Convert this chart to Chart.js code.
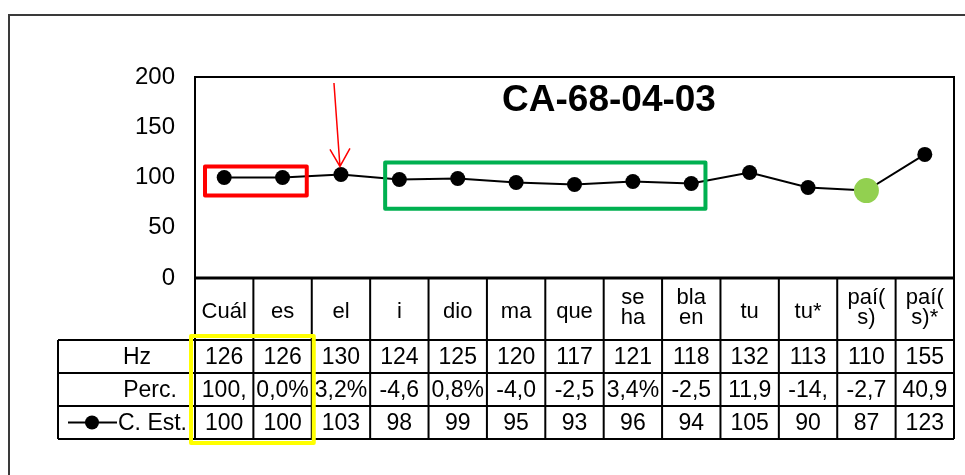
<!DOCTYPE html>
<html>
<head>
<meta charset="utf-8">
<script src="https://cdn.jsdelivr.net/npm/chart.js@4"></script>
<style>
  html, body { margin: 0; padding: 0; background: #ffffff; }
  canvas { display: block; }
</style>
</head>
<body>
<canvas id="pitchChart" width="965" height="475"></canvas>
<script>
// Chart data
const chartTitle = 'CA-68-04-03';
const categories = [
  ['Cuál'], ['es'], ['el'], ['i'], ['dio'], ['ma'], ['que'],
  ['se', 'ha'], ['bla', 'en'], ['tu'], ['tu*'], ['paí(', 's)'], ['paí(', 's)*']
];
const hzValues = [126, 126, 130, 124, 125, 120, 117, 121, 118, 132, 113, 110, 155];
const percLabels = ['100,', '0,0%', '3,2%', '-4,6', '0,8%', '-4,0', '-2,5', '3,4%', '-2,5', '11,9', '-14,', '-2,7', '40,9'];
const cEstValues = [100, 100, 103, 98, 99, 95, 93, 96, 94, 105, 90, 87, 123];
const yTicks = [0, 50, 100, 150, 200];
const highlightIndex = 11; // the green dot

const FONT = '"Liberation Sans", Arial, sans-serif';

// Outer frame + white background
const framePlugin = {
  id: 'frame',
  beforeDraw(chart) {
    const ctx = chart.ctx;
    ctx.save();
    ctx.fillStyle = '#ffffff';
    ctx.fillRect(0, 0, chart.width, chart.height);
    ctx.strokeStyle = '#3a3a3a';
    ctx.lineWidth = 2;
    ctx.beginPath();
    ctx.moveTo(9, chart.height);
    ctx.lineTo(9, 15);
    ctx.lineTo(chart.width, 15);
    ctx.stroke();
    ctx.restore();
  }
};

// Plot border, title, data table and the hand-drawn marks
const tablePlugin = {
  id: 'dataTable',
  afterDraw(chart) {
    const { ctx, chartArea: a, scales: { x, y } } = chart;
    const n = categories.length;
    const colW = (a.right - a.left) / n;
    const edge = i => a.left + i * colW;
    const headerH = 62;
    const rowH = 33;
    const rowTop = a.bottom + headerH;
    const tableBottom = rowTop + rowH * 3;
    const tableLeft = 58;

    ctx.save();

    // plot area border
    ctx.strokeStyle = '#000';
    ctx.lineWidth = 2;
    ctx.strokeRect(a.left, a.top, a.right - a.left, a.bottom - a.top);
    ctx.lineWidth = 3;
    ctx.beginPath();
    ctx.moveTo(a.left, a.bottom);
    ctx.lineTo(a.right, a.bottom);
    ctx.stroke();

    // title
    ctx.fillStyle = '#000';
    ctx.font = 'bold 37px ' + FONT;
    ctx.textAlign = 'center';
    ctx.textBaseline = 'middle';
    ctx.fillText(chartTitle, 609, 101);

    // table grid
    ctx.lineWidth = 2;
    ctx.beginPath();
    for (let i = 0; i <= n; i++) {
      ctx.moveTo(edge(i), a.bottom);
      ctx.lineTo(edge(i), tableBottom);
    }
    ctx.moveTo(tableLeft, rowTop);
    ctx.lineTo(tableLeft, tableBottom);
    for (let r = 0; r <= 3; r++) {
      ctx.moveTo(tableLeft, rowTop + r * rowH);
      ctx.lineTo(a.right, rowTop + r * rowH);
    }
    ctx.stroke();

    // category labels
    ctx.font = '22px ' + FONT;
    categories.forEach((lines, i) => {
      const cx = x.getPixelForValue(i);
      if (lines.length === 1) {
        ctx.fillText(lines[0], cx, a.bottom + 34);
      } else {
        ctx.fillText(lines[0], cx, a.bottom + 20);
        ctx.fillText(lines[1], cx, a.bottom + 40);
      }
    });

    // row values
    ctx.font = '23px ' + FONT;
    const rows = [hzValues, percLabels, cEstValues];
    rows.forEach((vals, r) => {
      const cy = rowTop + r * rowH + rowH / 2 + 1;
      vals.forEach((v, i) => {
        const cx = x.getPixelForValue(i);
        ctx.save();
        ctx.beginPath();
        ctx.rect(edge(i) + 1, cy - rowH / 2, colW - 2, rowH);
        ctx.clip();
        ctx.fillText(String(v), cx, cy);
        ctx.restore();
      });
    });

    // row headers
    ctx.fillText('Hz', 137, rowTop + rowH / 2 + 1);
    ctx.fillText('Perc.', 150, rowTop + rowH * 1.5 + 1);
    ctx.textAlign = 'left';
    ctx.fillText('C. Est.', 118, rowTop + rowH * 2.5 + 1);
    // legend key for the series row
    const ky = rowTop + rowH * 2.5;
    ctx.lineWidth = 2;
    ctx.beginPath();
    ctx.moveTo(68, ky);
    ctx.lineTo(117, ky);
    ctx.stroke();
    ctx.beginPath();
    ctx.arc(92, ky, 7, 0, Math.PI * 2);
    ctx.fill();

    // red box around first two words
    ctx.lineJoin = 'round';
    ctx.lineWidth = 4;
    ctx.strokeStyle = '#ff0000';
    ctx.strokeRect(edge(0) + 10, y.getPixelForValue(111), edge(2) - edge(0) - 15, y.getPixelForValue(82) - y.getPixelForValue(111));

    // green box
    ctx.strokeStyle = '#00b050';
    ctx.strokeRect(edge(3) + 15, y.getPixelForValue(115), edge(9) - edge(3) - 30, y.getPixelForValue(69) - y.getPixelForValue(115));

    // yellow box around first two table columns
    ctx.strokeStyle = '#ffff00';
    ctx.strokeRect(edge(0) - 4, rowTop - 4, edge(2) - edge(0) + 6, tableBottom - rowTop + 8);

    // red arrow pointing at "el"
    const tipX = x.getPixelForValue(2) - 1;
    const tipY = y.getPixelForValue(cEstValues[2]) - 8;
    ctx.strokeStyle = '#ff0000';
    ctx.lineWidth = 1.5;
    ctx.lineJoin = 'miter';
    ctx.beginPath();
    ctx.moveTo(tipX - 6, y.getPixelForValue(194));
    ctx.lineTo(tipX, tipY);
    ctx.moveTo(tipX - 10, tipY - 17);
    ctx.lineTo(tipX, tipY);
    ctx.lineTo(tipX + 10, tipY - 18);
    ctx.stroke();

    ctx.restore();
  }
};

new Chart(document.getElementById('pitchChart'), {
  type: 'line',
  data: {
    labels: categories.map(c => c.join('')),
    datasets: [{
      label: 'C. Est.',
      data: cEstValues,
      borderColor: '#000000',
      borderWidth: 2,
      tension: 0,
      pointRadius: ctx => ctx.dataIndex === highlightIndex ? 12.5 : 7.5,
      pointBackgroundColor: ctx => ctx.dataIndex === highlightIndex ? '#92d050' : '#000000',
      pointBorderWidth: 0,
      pointHoverRadius: ctx => ctx.dataIndex === highlightIndex ? 12.5 : 7.5
    }]
  },
  options: {
    responsive: false,
    devicePixelRatio: 1,
    animation: false,
    layout: { padding: { left: 0, top: 77, right: 11, bottom: 197 } },
    plugins: {
      legend: { display: false },
      tooltip: { enabled: false }
    },
    scales: {
      x: {
        display: false,
        offset: true
      },
      y: {
        min: 0,
        max: 200,
        afterFit: scale => { scale.width = 195; },
        afterBuildTicks: scale => { scale.ticks = yTicks.map(v => ({ value: v })); },
        grid: { display: false, drawTicks: false },
        border: { display: false },
        ticks: {
          color: '#000000',
          padding: 20,
          font: { family: FONT, size: 24 }
        }
      }
    }
  },
  plugins: [framePlugin, tablePlugin]
});
</script>
</body>
</html>
